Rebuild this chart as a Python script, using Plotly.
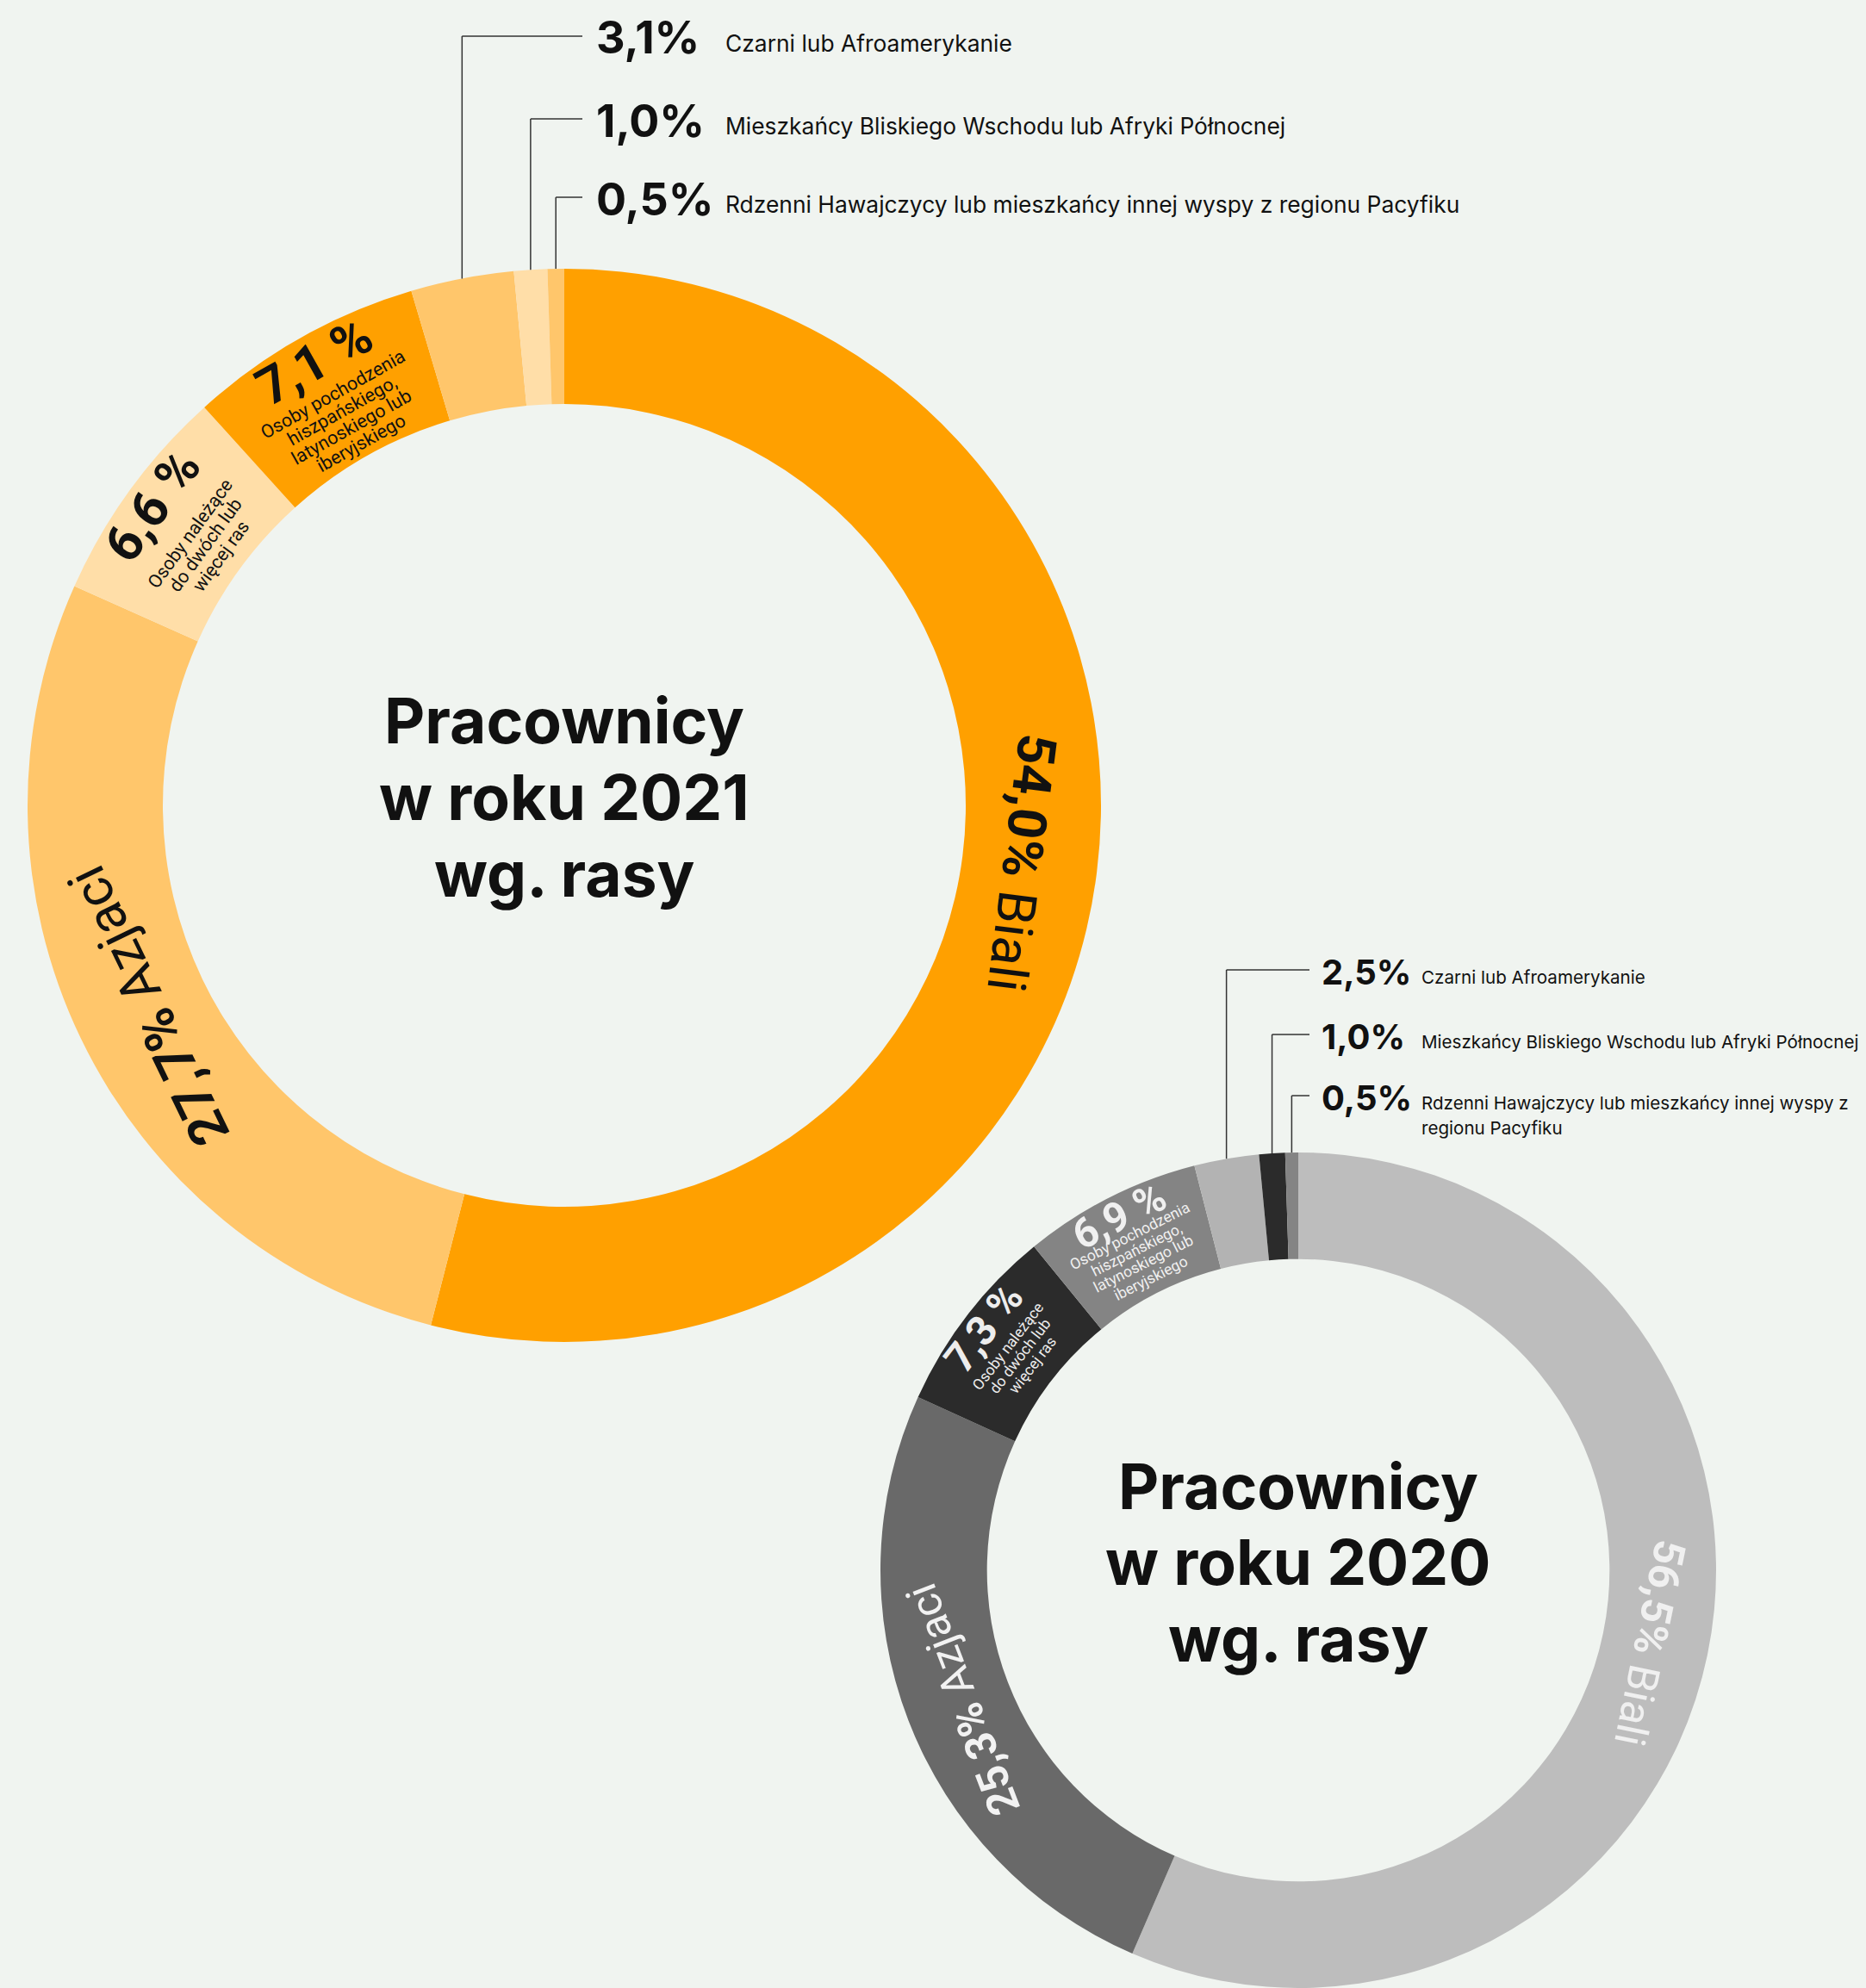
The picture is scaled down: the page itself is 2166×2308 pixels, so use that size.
import math
import plotly.graph_objects as go

# ---------------- data ----------------
categories = [
    "Biali",
    "Azjaci",
    "Osoby należące do dwóch lub więcej ras",
    "Osoby pochodzenia hiszpańskiego, latynoskiego lub iberyjskiego",
    "Czarni lub Afroamerykanie",
    "Mieszkańcy Bliskiego Wschodu lub Afryki Północnej",
    "Rdzenni Hawajczycy lub mieszkańcy innej wyspy z regionu Pacyfiku",
]
values_2021 = [54.0, 27.7, 6.6, 7.1, 3.1, 1.0, 0.5]
values_2020 = [56.5, 25.3, 7.3, 6.9, 2.5, 1.0, 0.5]
label_kind = ["ring", "ring", "inside", "inside", "outside", "outside", "outside"]
inside_lines = {
    2: ["Osoby należące", "do dwóch lub", "więcej ras"],
    3: ["Osoby pochodzenia", "hiszpańskiego,", "latynoskiego lub", "iberyjskiego"],
}
outside_lines_2021 = {
    4: ["Czarni lub Afroamerykanie"],
    5: ["Mieszkańcy Bliskiego Wschodu lub Afryki Północnej"],
    6: ["Rdzenni Hawajczycy lub mieszkańcy innej wyspy z regionu Pacyfiku"],
}
outside_lines_2020 = {
    4: ["Czarni lub Afroamerykanie"],
    5: ["Mieszkańcy Bliskiego Wschodu lub Afryki Północnej"],
    6: ["Rdzenni Hawajczycy lub mieszkańcy innej wyspy z", "regionu Pacyfiku"],
}
title_2021 = ["Pracownicy", "w roku 2021", "wg. rasy"]
title_2020 = ["Pracownicy", "w roku 2020", "wg. rasy"]

colors_2021 = ["#FFA000", "#FFC66B", "#FFDEA8", "#FFA000", "#FFC66B", "#FFDEA8", "#FFC66B"]
colors_2020 = ["#BDBDBD", "#696969", "#2B2B2B", "#848484", "#B3B3B3", "#2B2B2B", "#848484"]
text_2021 = ["#111111"] * 7
text_2020 = ["#F0F0F0", "#F2F2F2", "#EDEDED", "#F0F0F0", "#111111", "#111111", "#111111"]

# ---------------- layout constants ----------------
W, H = 2166, 2308
BG = "#F0F4F0"

donuts = [
    dict(values=values_2021, colors=colors_2021, tcolors=text_2021, title=title_2021,
         outside=outside_lines_2021,
         cx=655, cy=935, R=623, hole=0.748,
         ring_font=62, ring_r=0.86,
         big_font=60, big_r=0.95,
         desc_font=21.5, desc_r=0.827, desc_gap=22,
         out_line_y=[42, 138, 229], out_end_x=676, out_pct_x=690, out_desc_x=840,
         out_pct_font=52, out_desc_font=26.4, out_desc_gap=34,
         title_font=73, title_dy=[-98, -9, 80]),
    dict(values=values_2020, colors=colors_2020, tcolors=text_2020, title=title_2020,
         outside=outside_lines_2020,
         cx=1507, cy=1823, R=485, hole=0.745,
         ring_font=50, ring_r=0.86,
         big_font=48, big_r=0.95,
         desc_font=17.5, desc_r=0.84, desc_gap=18,
         out_line_y=[1126, 1201, 1272], out_end_x=1520, out_pct_x=1532, out_desc_x=1648,
         out_pct_font=40, out_desc_font=20.6, out_desc_gap=29,
         title_font=73, title_dy=[-98, -10, 79]),
]


def px_to_paper(x, y):
    return x / W, 1 - y / H


def fmt(v):
    return f"{v:.1f}".replace(".", ",")


fig = go.Figure()
annotations = []
shapes = []


def polar_pt(cx, cy, rr, th):
    return px_to_paper(cx + rr * math.sin(th), cy - rr * math.cos(th))


for d in donuts:
    cx, cy, R = d["cx"], d["cy"], d["R"]
    x0, y1 = px_to_paper(cx - R, cy - R)
    x1, y0 = px_to_paper(cx + R, cy + R)
    fig.add_trace(go.Pie(
        labels=categories,
        values=d["values"],
        marker=dict(colors=d["colors"], line=dict(width=0)),
        hole=d["hole"],
        sort=False,
        direction="clockwise",
        rotation=0,
        textinfo="none",
        hoverinfo="label+percent",
        showlegend=False,
        domain=dict(x=[max(0, x0), min(1, x1)], y=[max(0, y0), min(1, y1)]),
    ))

    total = sum(d["values"])
    cum = 0.0
    out_i = 0
    for i, v in enumerate(d["values"]):
        mid = (cum + v / 2) / total * 360.0
        cum += v
        th = math.radians(mid)
        ang = mid if mid <= 180 else mid - 360
        kind = label_kind[i]
        col = d["tcolors"][i]
        if kind == "ring":
            px, py = polar_pt(cx, cy, d["ring_r"] * R, th)
            annotations.append(dict(
                x=px, y=py, xref="paper", yref="paper", showarrow=False,
                xanchor="center", yanchor="middle", textangle=ang,
                text=f"<b>{fmt(v)}%</b> {categories[i]}",
                font=dict(family="Roboto", size=d["ring_font"], color=col)))
        elif kind == "inside":
            px, py = polar_pt(cx, cy, d["big_r"] * R, th)
            annotations.append(dict(
                x=px, y=py, xref="paper", yref="paper", showarrow=False,
                xanchor="center", yanchor="middle", textangle=ang,
                text=f"<b>{fmt(v)} %</b>",
                font=dict(family="Roboto", size=d["big_font"], color=col)))
            lines = inside_lines[i]
            n = len(lines)
            for k, line in enumerate(lines):
                rr = d["desc_r"] * R - (k - (n - 1) / 2) * d["desc_gap"]
                px, py = polar_pt(cx, cy, rr, th)
                annotations.append(dict(
                    x=px, y=py, xref="paper", yref="paper", showarrow=False,
                    xanchor="center", yanchor="middle", textangle=ang,
                    text=line,
                    font=dict(family="Roboto", size=d["desc_font"], color=col)))
        else:
            ly = d["out_line_y"][out_i]
            out_i += 1
            lx = cx + R * math.sin(th)
            ry = cy - R * math.cos(th)
            ax, ay = px_to_paper(lx, ry)
            bx, by = px_to_paper(lx, ly)
            ex, _ = px_to_paper(d["out_end_x"], ly)
            shapes.append(dict(type="line", xref="paper", yref="paper",
                               x0=ax, y0=ay, x1=bx, y1=by,
                               line=dict(color="#333333", width=1.5)))
            shapes.append(dict(type="line", xref="paper", yref="paper",
                               x0=bx, y0=by, x1=ex, y1=by,
                               line=dict(color="#333333", width=1.5)))
            tx, ty = px_to_paper(d["out_pct_x"], ly + 2)
            annotations.append(dict(
                x=tx, y=ty, xref="paper", yref="paper", showarrow=False,
                xanchor="left", yanchor="middle",
                text=f"<b>{fmt(v)}%</b>",
                font=dict(family="Inter", size=d["out_pct_font"], color="#111111")))
            for k, line in enumerate(d["outside"][i]):
                tx, ty = px_to_paper(d["out_desc_x"], ly + 8 + k * d["out_desc_gap"])
                annotations.append(dict(
                    x=tx, y=ty, xref="paper", yref="paper", showarrow=False,
                    xanchor="left", yanchor="middle",
                    text=line,
                    font=dict(family="Inter", size=d["out_desc_font"], color="#111111")))

    for k, line in enumerate(d["title"]):
        tx, ty = px_to_paper(cx, cy + d["title_dy"][k])
        annotations.append(dict(
            x=tx, y=ty, xref="paper", yref="paper", showarrow=False,
            xanchor="center", yanchor="middle", text=line,
            font=dict(family="Inter", size=d["title_font"], color="#111111", weight=700)))

fig.update_layout(
    width=W, height=H,
    margin=dict(l=0, r=0, t=0, b=0),
    paper_bgcolor=BG, plot_bgcolor=BG,
    annotations=annotations,
    shapes=shapes,
)

fig.write_html("out.html")
